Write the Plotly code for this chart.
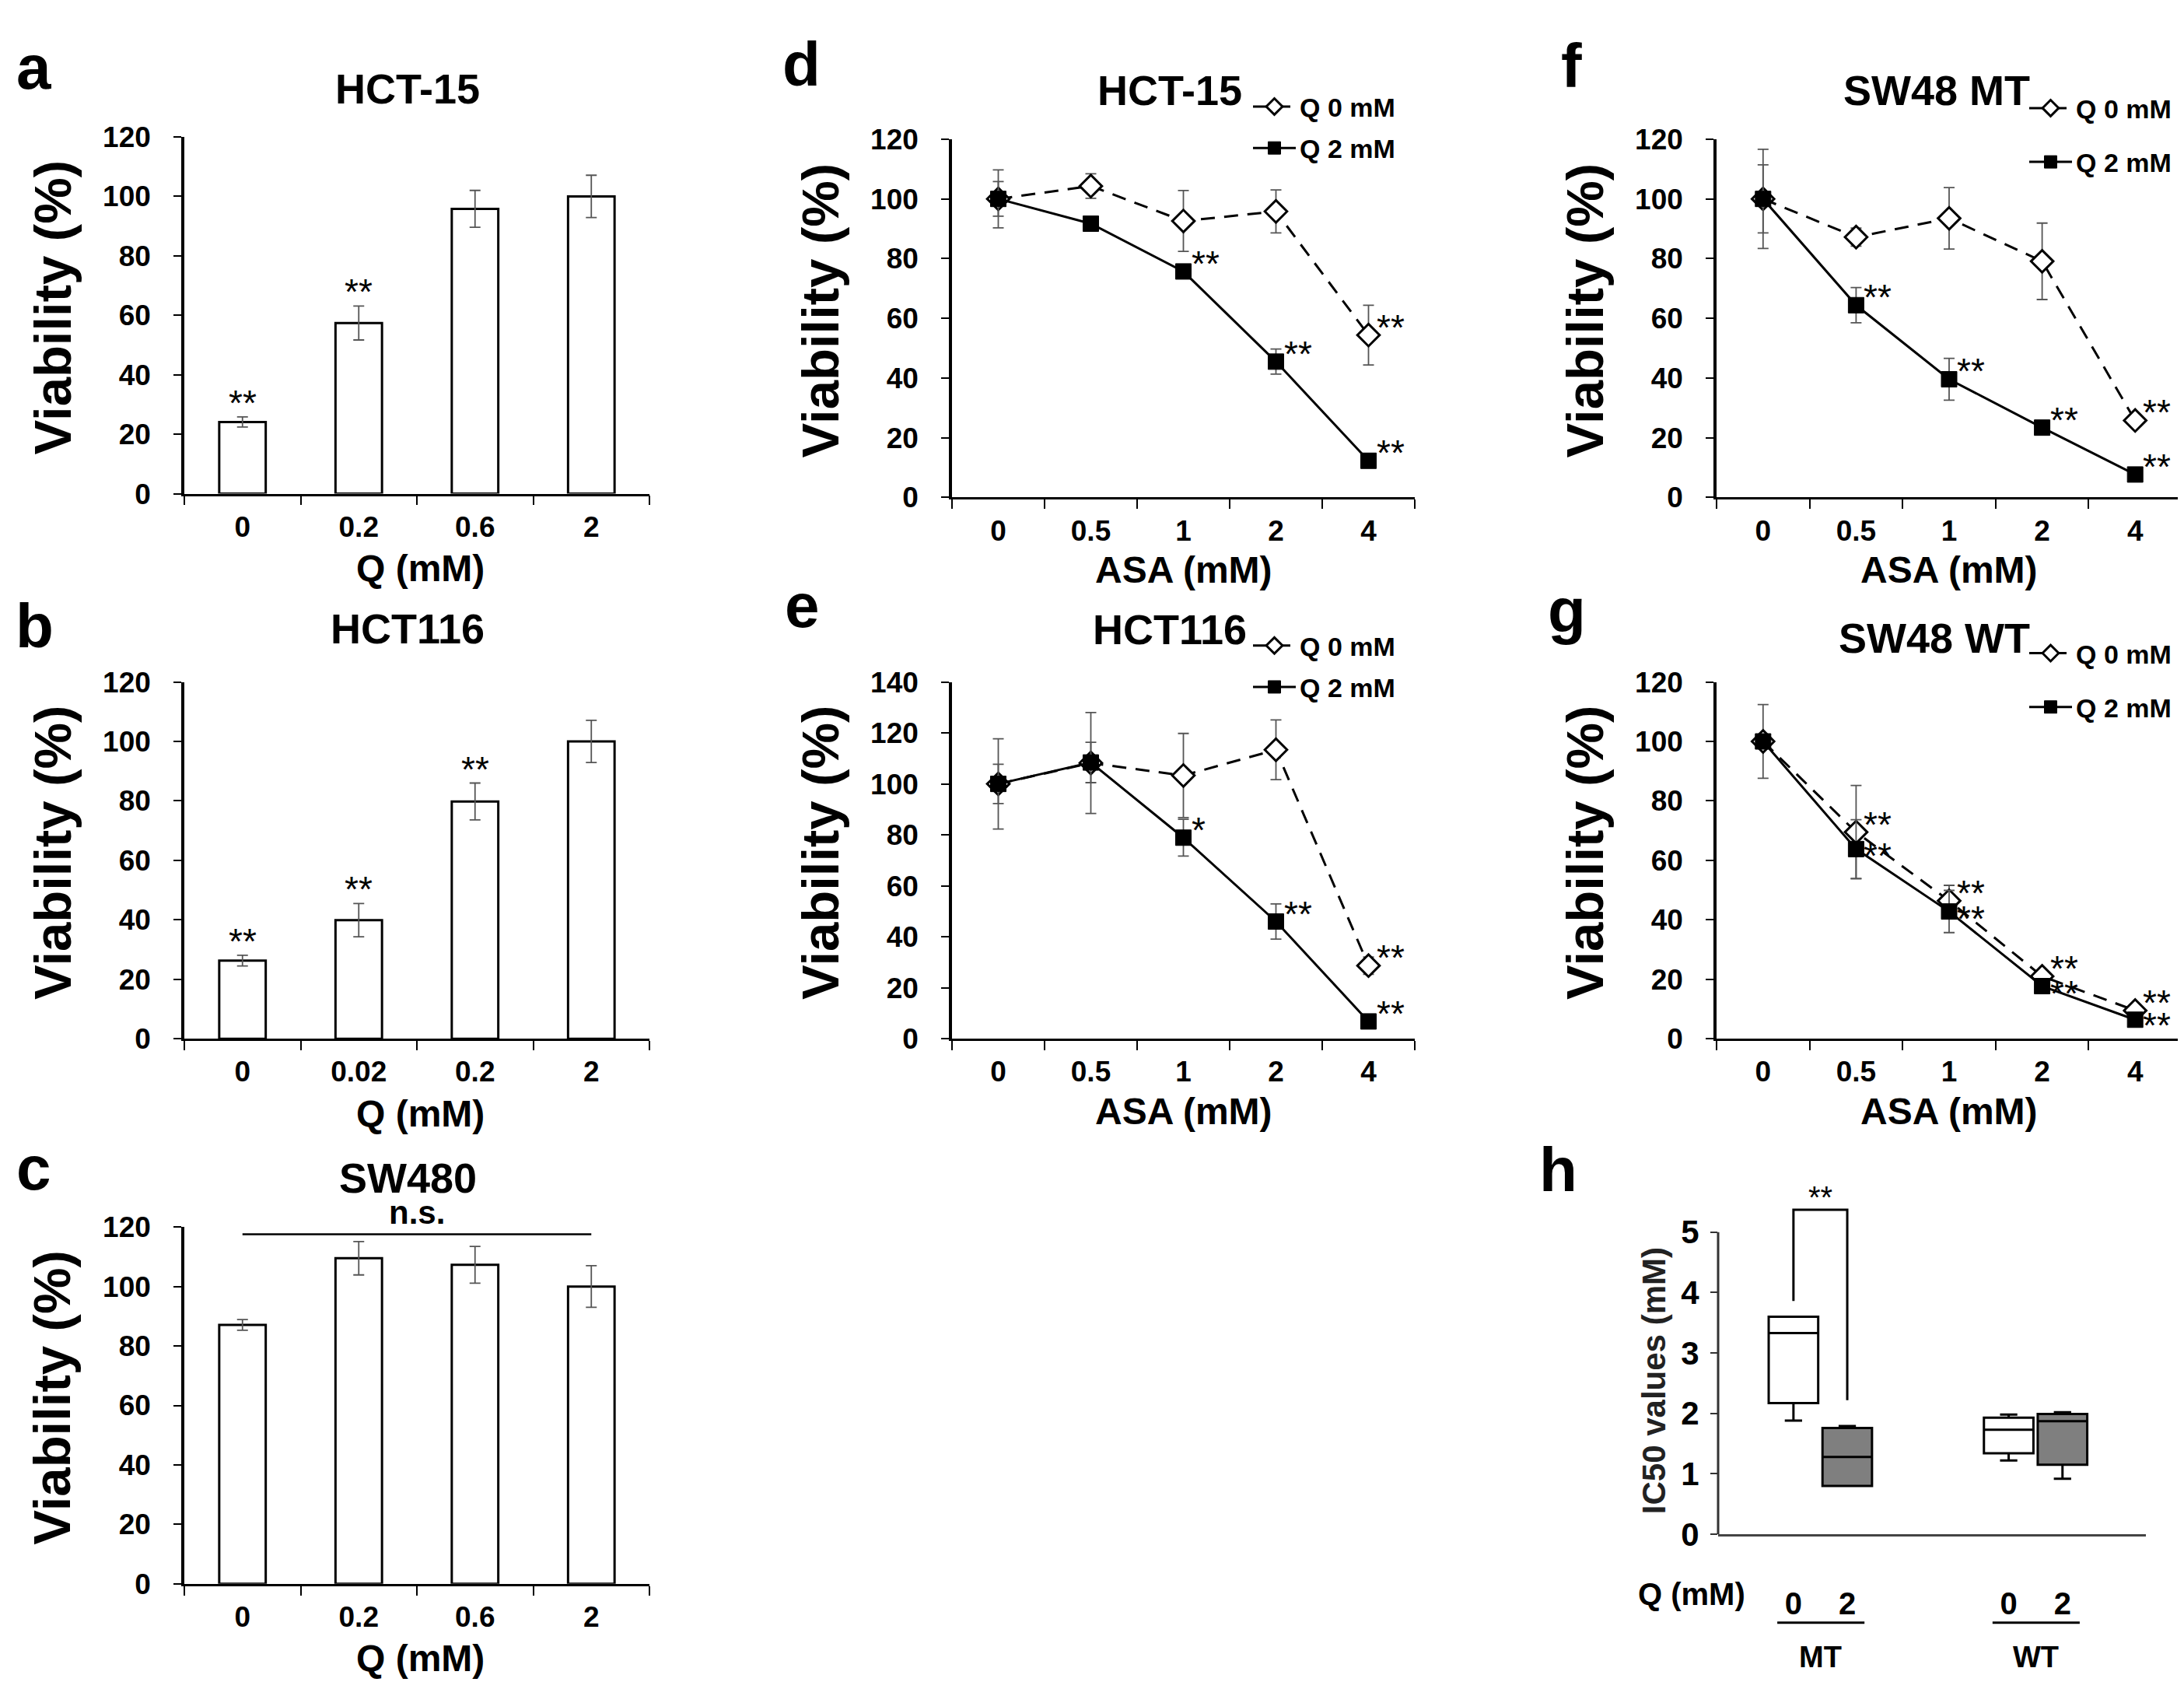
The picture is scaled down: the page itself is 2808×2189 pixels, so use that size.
import plotly.graph_objects as go

W, H = 2808, 2189
FONT = "Liberation Sans, Arial, sans-serif"

# ---- data ----
# a-c: viability after quercetin (Q) alone
Q_A = ["0", "0.2", "0.6", "2"]
VIAB_A = [24.1, 57.4, 95.8, 100.0]
ERR_A = [1.7, 5.7, 6.2, 7.1]
SIG_A = ["**", "**", "", ""]

Q_B = ["0", "0.02", "0.2", "2"]
VIAB_B = [26.3, 39.9, 79.8, 100.0]
ERR_B = [1.8, 5.6, 6.2, 7.1]
SIG_B = ["**", "**", "**", ""]

Q_C = ["0", "0.2", "0.6", "2"]
VIAB_C = [87.1, 109.5, 107.3, 100.0]
ERR_C = [1.8, 5.6, 6.2, 7.0]
NS_C = 117.6

# d-g: viability vs ASA with Q 0 mM / Q 2 mM
ASA = ["0", "0.5", "1", "2", "4"]

D_Q0 = [100.0, 104.3, 92.6, 95.8, 54.4]
D_Q0_ERR = [9.7, 4.1, 10.2, 7.2, 10.0]
D_Q2 = [100.0, 91.7, 75.7, 45.5, 12.3]
D_Q2_ERR = [5.8, 1.0, 1.5, 4.2, 1.0]
D_SIG_Q0 = ["", "", "", "", "**"]
D_SIG_Q2 = ["", "", "**", "**", "**"]

E_Q0 = [100.0, 108.2, 103.3, 113.4, 28.7]
E_Q0_ERR = [17.7, 19.8, 16.5, 11.7, 3.4]
E_Q2 = [100.0, 108.4, 78.9, 46.0, 6.8]
E_Q2_ERR = [7.7, 7.9, 7.2, 6.9, 1.0]
E_SIG_Q0 = ["", "", "", "", "**"]
E_SIG_Q2 = ["", "", "*", "**", "**"]

F_Q0 = [100.0, 87.2, 93.5, 79.1, 25.8]
F_Q0_ERR = [16.6, 3.0, 10.3, 12.8, 1.0]
F_Q2 = [100.0, 64.4, 39.6, 23.4, 7.7]
F_Q2_ERR = [11.4, 5.9, 7.0, 1.2, 1.0]
F_SIG_Q0 = ["", "", "", "", "**"]
F_SIG_Q2 = ["", "**", "**", "**", "**"]

G_Q0 = [100.0, 69.5, 46.4, 21.0, 9.5]
G_Q0_ERR = [12.4, 15.7, 5.2, 2.0, 1.0]
G_Q2 = [100.0, 63.8, 42.8, 17.7, 6.4]
G_Q2_ERR = [2.0, 9.9, 7.1, 2.5, 2.0]
G_SIG_Q0 = ["", "**", "**", "**", "**"]
G_SIG_Q2 = ["", "**", "**", "**", "**"]

# h: IC50 box plots (SW48 MT / WT, Q 0 and 2 mM)
H_Q = ["0", "2", "0", "2"]
H_GROUP = ["MT", "MT", "WT", "WT"]
H_LOW = [1.88, 0.80, 1.22, 0.92]
H_Q1 = [2.17, 0.80, 1.34, 1.15]
H_MED = [3.33, 1.28, 1.73, 1.87]
H_Q3 = [3.60, 1.76, 1.93, 1.99]
H_HIGH = [3.60, 1.79, 1.98, 2.02]
H_BRACKET = [3.86, 5.37, 5.37, 2.22]

# box slots on the h axis (layout)
H_X = [1.4, 2.4, 5.4, 6.4]


def px_x(p):
    return p / W


def px_y(p):
    return 1 - p / H


fig = go.Figure()
annotations = []
shapes = []


def ann(text, x, y, size, bold=True, **kw):
    d = dict(text=text, x=x, y=y, showarrow=False,
             font=dict(family=FONT, size=size, color="black",
                       weight="bold" if bold else "normal"))
    d.setdefault("xref", "paper")
    d.setdefault("yref", "paper")
    d.update(kw)
    d.setdefault("xanchor", "center")
    d.setdefault("yanchor", "middle")
    annotations.append(d)


def axis_pair(n, x0, x1, ytop, ybot, cats, ymax):
    xa = dict(domain=[px_x(x0), px_x(x1)], anchor="y" + n, type="category",
              range=[-0.5, len(cats) - 0.5], showline=True, linecolor="black",
              linewidth=2.5, ticks="outside", tickson="boundaries", ticklen=12,
              tickwidth=2, tickcolor="black", showgrid=False, zeroline=False,
              ticklabelstandoff=8,
              tickfont=dict(family=FONT, size=37, color="black", weight="bold"))
    ya = dict(domain=[px_y(ybot), px_y(ytop)], anchor="x" + n, range=[0, ymax],
              dtick=20, showline=True, linecolor="black", linewidth=3.5,
              ticks="outside", ticklen=10, tickwidth=2, tickcolor="black",
              showgrid=False, zeroline=False, ticklabelstandoff=22,
              tickfont=dict(family=FONT, size=37, color="black", weight="bold"))
    fig.layout["xaxis" + n] = xa
    fig.layout["yaxis" + n] = ya


def err(arr):
    return dict(type="data", array=arr, color="#555", thickness=1.8, width=7)


def bar_panel(n, box, cats, vals, errs, sig, letter, title, lpos, tpos):
    x0, x1, ytop, ybot = box
    axis_pair(n, x0, x1, ytop, ybot, cats, 120)
    fig.add_trace(go.Bar(x=cats, y=vals, error_y=err(errs), width=0.4,
                         marker=dict(color="white", line=dict(color="black", width=3)),
                         xaxis="x" + n, yaxis="y" + n, showlegend=False))
    for i, (v, e, s) in enumerate(zip(vals, errs, sig)):
        if s:
            ann(s, i, v + e, 46, bold=False, xref="x" + n, yref="y" + n, yshift=18)
    ann(letter, px_x(lpos[0]), px_y(lpos[1]), 80)
    ann(title, px_x(tpos[0]), px_y(tpos[1]), 54)
    ann("Viability (%)", px_x(x0 - 170), px_y((ytop + ybot) / 2 - 10), 67,
        textangle=-90)
    ann("Q (mM)", px_x((x0 + x1) / 2 + 4), px_y(ybot + 98), 48)


def line_panel(n, box, ymax, q0, q0e, q2, q2e, s0, s2, letter, title, lpos, tpos,
               legname, legpos, leggap, s2shift):
    x0, x1, ytop, ybot = box
    axis_pair(n, x0, x1, ytop, ybot, ASA, ymax)
    fig.add_trace(go.Scatter(
        x=ASA, y=q0, mode="lines+markers", name="Q 0 mM", legend=legname,
        legendgroup=legname + "a", error_y=err(q0e),
        line=dict(color="black", width=3, dash="18px,12px"),
        marker=dict(symbol="diamond", size=22, color="white",
                    line=dict(color="black", width=3)),
        xaxis="x" + n, yaxis="y" + n))
    fig.add_trace(go.Scatter(
        x=ASA, y=q2, mode="lines+markers", name="Q 2 mM", legend=legname,
        legendgroup=legname + "b", error_y=err(q2e),
        line=dict(color="black", width=3),
        marker=dict(symbol="square", size=20, color="black",
                    line=dict(color="black", width=1)),
        xaxis="x" + n, yaxis="y" + n))
    for i, (v, s) in enumerate(zip(q0, s0)):
        if s:
            ann(s, i, v, 46, bold=False, xref="x" + n, yref="y" + n,
                xanchor="left", xshift=8, yshift=10)
    for i, (v, s) in enumerate(zip(q2, s2)):
        if s:
            ann(s, i, v, 46, bold=False, xref="x" + n, yref="y" + n,
                xanchor="left", xshift=8, yshift=s2shift[i])
    ann(letter, px_x(lpos[0]), px_y(lpos[1]), 80)
    ann(title, px_x(tpos[0]), px_y(tpos[1]), 54)
    ann("Viability (%)", px_x(x0 - 170), px_y((ytop + ybot) / 2 - 10), 67,
        textangle=-90)
    ann("ASA (mM)", px_x((x0 + x1) / 2), px_y(ybot + 95), 48)
    fig.layout[legname] = dict(
        x=px_x(legpos[0]), y=px_y(legpos[1]), xanchor="left", yanchor="top",
        bgcolor="rgba(0,0,0,0)", traceorder="grouped", tracegroupgap=leggap,
        itemwidth=55,
        font=dict(family=FONT, size=34, color="black", weight="bold"))


# ---- bar panels a-c ----
bar_panel("", (229, 827, 151, 619), Q_A, VIAB_A, ERR_A, SIG_A, "a", "HCT-15",
          (35, 60), (516, 88))
bar_panel("2", (229, 827, 866, 1334), Q_B, VIAB_B, ERR_B, SIG_B, "b", "HCT116",
          (36, 792), (516, 796))
bar_panel("3", (229, 827, 1581, 2049), Q_C, VIAB_C, ERR_C, ["", "", "", ""], "c",
          "SW480", (35, 1504), (516, 1516))
shapes.append(dict(type="line", xref="x3", yref="y3", x0=0, x1=3, y0=NS_C, y1=NS_C,
                   line=dict(color="black", width=2.5)))
ann("n.s.", 1.5, NS_C, 42, xref="x3", yref="y3", yanchor="bottom", yshift=2)

# ---- line panels d-g ----
line_panel("4", (1216, 1811, 154, 624), 120, D_Q0, D_Q0_ERR, D_Q2, D_Q2_ERR,
           D_SIG_Q0, D_SIG_Q2, "d", "HCT-15", (1022, 56), (1496, 90),
           "legend", (1598, 82), 6, [10] * 5)
line_panel("5", (1216, 1811, 866, 1334), 140, E_Q0, E_Q0_ERR, E_Q2, E_Q2_ERR,
           E_SIG_Q0, E_SIG_Q2, "e", "HCT116", (1023, 766), (1496, 797),
           "legend2", (1598, 789), 6, [10] * 5)
line_panel("6", (2199, 2797, 154, 624), 120, F_Q0, F_Q0_ERR, F_Q2, F_Q2_ERR,
           F_SIG_Q0, F_SIG_Q2, "f", "SW48 MT", (2012, 58), (2482, 90),
           "legend3", (2596, 84), 22, [10] * 5)
line_panel("7", (2199, 2797, 866, 1334), 120, G_Q0, G_Q0_ERR, G_Q2, G_Q2_ERR,
           G_SIG_Q0, G_SIG_Q2, "g", "SW48 WT", (2006, 772), (2479, 808),
           "legend4", (2596, 799), 22, [0, -9, -9, -9, -7])

# ---- panel h: IC50 box plots ----
hx0, hx1, htop, hbot = 2201, 2751, 1540, 1984
fig.layout["xaxis8"] = dict(
    domain=[px_x(hx0), px_x(hx1)], anchor="y8", range=[0, 7.95],
    tickvals=H_X, ticktext=H_Q, ticks="", showline=True, linecolor="#444",
    linewidth=2.5, showgrid=False, zeroline=False, ticklabelstandoff=52,
    tickfont=dict(family=FONT, size=40, color="black", weight="bold"))
fig.layout["yaxis8"] = dict(
    domain=[px_y(hbot), px_y(htop)], anchor="x8", range=[0, 5.6],
    tickvals=[0, 1, 2, 3, 4, 5], showline=False, ticks="outside", ticklen=9,
    tickwidth=2, tickcolor="#333", showgrid=False, zeroline=False,
    ticklabelstandoff=6,
    tickfont=dict(family=FONT, size=42, color="black", weight="bold"))
shapes.append(dict(type="line", xref="paper", yref="y8", x0=px_x(hx0), x1=px_x(hx0),
                   y0=0, y1=5, line=dict(color="#333", width=3)))

for idx, fill in ((0, "white"), (1, "#7f7f7f")):
    sel = [idx, idx + 2]
    fig.add_trace(go.Box(
        x=[H_X[i] for i in sel], q1=[H_Q1[i] for i in sel],
        median=[H_MED[i] for i in sel], q3=[H_Q3[i] for i in sel],
        lowerfence=[H_LOW[i] for i in sel], upperfence=[H_HIGH[i] for i in sel],
        fillcolor=fill, line=dict(color="black", width=3), width=0.92,
        whiskerwidth=0.35, boxpoints=False, showlegend=False,
        xaxis="x8", yaxis="y8"))

fig.add_trace(go.Scatter(x=[H_X[0], H_X[0], H_X[1], H_X[1]], y=H_BRACKET,
                         mode="lines", line=dict(color="black", width=3),
                         showlegend=False, xaxis="x8", yaxis="y8"))
ann("**", (H_X[0] + H_X[1]) / 2, H_BRACKET[1], 40, bold=False, xref="x8",
    yref="y8", yanchor="bottom", yshift=-8)
ann("h", px_x(1995), px_y(1506), 80)
ann("IC50 values (mM)", px_x(2118), px_y(1783), 42, textangle=-90,
    font=dict(family=FONT, size=42, color="#222", weight="bold"))
ann("Q (mM)", px_x(2167), px_y(2062), 40)
for grp, a, b in (("MT", 0, 1), ("WT", 2, 3)):
    shapes.append(dict(type="line", xref="x8", yref="paper",
                       x0=H_X[a] - 0.3, x1=H_X[b] + 0.32,
                       y0=px_y(2100), y1=px_y(2100),
                       line=dict(color="black", width=3)))
    ann(grp, (H_X[a] + H_X[b]) / 2, px_y(2145), 38, xref="x8")

fig.update_layout(
    width=W, height=H, autosize=False,
    margin=dict(l=0, r=0, t=0, b=0),
    paper_bgcolor="white", plot_bgcolor="white",
    annotations=annotations, shapes=shapes,
    font=dict(family=FONT, color="black"),
)

fig.write_html("out.html")
